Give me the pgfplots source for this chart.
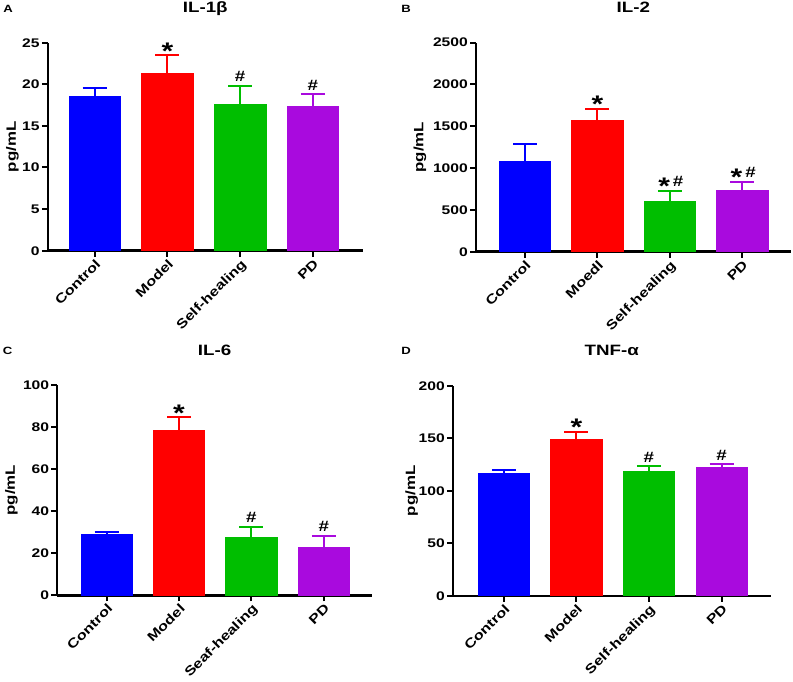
\documentclass[border=0pt]{standalone}
\usepackage{fontspec}
\setmainfont{Liberation Sans}[FakeStretch=1.25]
\usepackage{pgfplots}
\pgfplotsset{compat=1.18}
\definecolor{cblue}{RGB}{0,0,255}
\definecolor{cred}{RGB}{255,0,0}
\definecolor{cgreen}{RGB}{0,190,0}
\definecolor{cpurple}{RGB}{169,10,222}
\newcommand{\fs}[1]{\bfseries\fontsize{#1}{#1}\selectfont}
\pgfplotsset{
 gp/.style={
   scale only axis, height=209pt, ymin=0,
   axis x line*=bottom, axis y line*=left,
   axis line style={line width=2.4pt, -},
   tick align=outside, major tick length=6pt,
   every tick/.style={line width=2pt, black},
   xtick={0,1,2,3}, minor tick num=0,
   x tick label style={rotate=45, anchor=north east, font=\fs{13}, inner sep=1pt},
   y tick label style={font=\fs{12.5}, inner sep=2pt},
   /pgf/number format/assume math mode=true,
   /pgf/number format/1000 sep={},
   scaled y ticks=false,
   ylabel={pg/mL},
   title style={font=\fs{15}, at={(0.5,1)}, anchor=base, yshift=24pt, inner sep=1pt},
   ybar, bar shift=0pt, bar width=0.708,
   clip=false,
 },
 eb/.style={fill=#1, draw=#1, line width=0.6pt,
   error bars/.cd, y dir=plus, y explicit,
   error bar style={line width=2pt, #1},
   error mark options={rotate=90, mark size=12pt, line width=2pt, #1}},
}
\tikzset{
 mystar/.style={anchor=base, font=\fs{24}, yshift=-4pt},
 myhash/.style={anchor=base, font=\fs{15}, yshift=4pt},
}
\begin{document}
\begin{tikzpicture}
\path[use as bounding box] (0,0) rectangle (793pt,681pt);
% panel labels
\node[font=\fs{10.5}] at (8pt,672pt) {A};
\node[font=\fs{10.5}] at (406pt,672pt) {B};
\node[font=\fs{10.5}] at (7.5pt,330pt) {C};
\node[font=\fs{10.5}] at (406pt,330pt) {D};

% A
\begin{axis}[gp, at={(47.8pt,430.3pt)}, anchor=south west,
  width=314.9pt, height=208pt, xmin=-0.644, xmax=3.685,
  ymax=25, ytick={0,5,...,25}, title={IL-1β},
  xticklabels={Control,Model,Self-healing,PD},
  ylabel style={at={(axis description cs:-0.112,0.5)}, anchor=center, font=\fs{13.5}}]
\addplot[eb=cblue] coordinates {(0,18.6) +- (0,1.0)};
\addplot[eb=cred] coordinates {(1,21.35) +- (0,2.15)};
\addplot[eb=cgreen] coordinates {(2,17.6) +- (0,2.2)};
\addplot[eb=cpurple] coordinates {(3,17.4) +- (0,1.4)};
\node[mystar] at (axis cs:1,23.5) {*};
\node[myhash] at (axis cs:2,19.8) {\#};
\node[myhash] at (axis cs:3,18.8) {\#};
\end{axis}

% B
\begin{axis}[gp, at={(476pt,429.3pt)}, anchor=south west,
  width=314.7pt, height=209pt, xmin=-0.677, xmax=3.67,
  ymax=2500, ytick={0,500,...,2500}, title={IL-2},
  xticklabels={Control,Moedl,Self-healing,PD},
  ylabel style={at={(axis description cs:-0.178,0.5)}, anchor=center, font=\fs{13.5}}]
\addplot[eb=cblue] coordinates {(0,1085) +- (0,199)};
\addplot[eb=cred] coordinates {(1,1575) +- (0,136)};
\addplot[eb=cgreen] coordinates {(2,606) +- (0,124)};
\addplot[eb=cpurple] coordinates {(3,738) +- (0,99)};
\node[mystar] at (axis cs:1,1711) {*};
\node[mystar, xshift=-5.7pt] at (axis cs:2,730) {*};
\node[myhash, xshift=8.3pt] at (axis cs:2,730) {\#};
\node[mystar, xshift=-5.7pt] at (axis cs:3,837) {*};
\node[myhash, xshift=8.3pt] at (axis cs:3,837) {\#};
\end{axis}

% C
\begin{axis}[gp, at={(57.3pt,85.7pt)}, anchor=south west,
  width=314.7pt, height=210pt, xmin=-0.682, xmax=3.666,
  ymax=100, ytick={0,20,...,100}, title={IL-6},
  xticklabels={Control,Model,Seaf-healing,PD},
  ylabel style={at={(axis description cs:-0.146,0.5)}, anchor=center, font=\fs{13.5}}]
\addplot[eb=cblue] coordinates {(0,28.9) +- (0,1.3)};
\addplot[eb=cred] coordinates {(1,78.7) +- (0,6.2)};
\addplot[eb=cgreen] coordinates {(2,27.5) +- (0,5.2)};
\addplot[eb=cpurple] coordinates {(3,22.7) +- (0,5.6)};
\node[mystar] at (axis cs:1,84.9) {*};
\node[myhash] at (axis cs:2,32.7) {\#};
\node[myhash] at (axis cs:3,28.3) {\#};
\end{axis}

% D
\begin{axis}[gp, at={(453pt,85.3pt)}, anchor=south west,
  width=317.7pt, height=210pt, xmin=-0.700, xmax=3.678,
  ymax=200, ytick={0,50,...,200}, title={TNF-α},
  xticklabels={Control,Model,Self-healing,PD},
  ylabel style={at={(axis description cs:-0.130,0.5)}, anchor=center, font=\fs{13.5}}]
\addplot[eb=cblue] coordinates {(0,116.2) +- (0,3.5)};
\addplot[eb=cred] coordinates {(1,148.6) +- (0,7.6)};
\addplot[eb=cgreen] coordinates {(2,118.7) +- (0,4.8)};
\addplot[eb=cpurple] coordinates {(3,122.2) +- (0,3.2)};
\node[mystar] at (axis cs:1,156.2) {*};
\node[myhash] at (axis cs:2,123.5) {\#};
\node[myhash] at (axis cs:3,125.4) {\#};
\end{axis}
\end{tikzpicture}
\end{document}
